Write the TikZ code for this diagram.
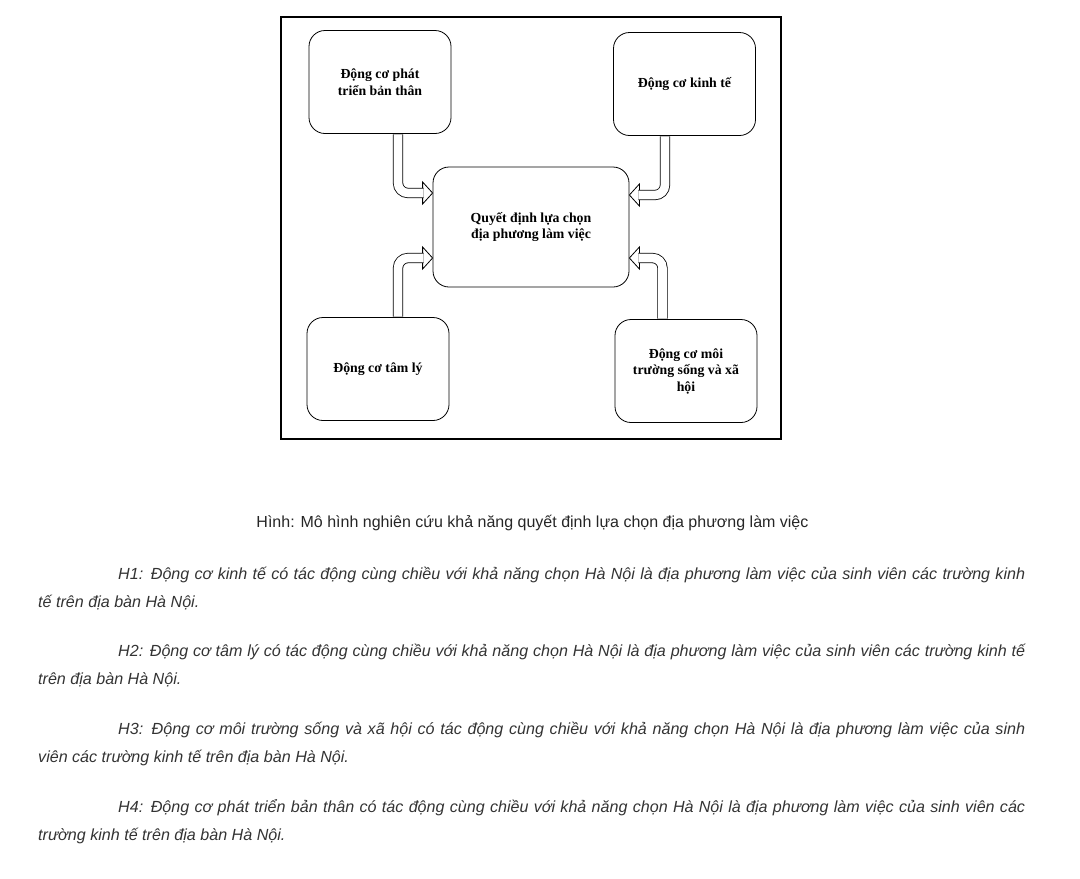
\documentclass[tikz,border=0pt]{standalone}
\usepackage{fontspec}
\setmainfont{Liberation Serif}
\newfontfamily\capfont{Liberation Sans}
\usetikzlibrary{positioning,calc}

\begin{document}
\begin{tikzpicture}
[
x=1pt, y=-1pt,
every node/.style={inner sep=0pt},
factor/.style={draw, rounded corners=16pt, line width=0.8pt, minimum width=142pt, minimum height=103pt, align=center, font=\bfseries\fontsize{13.8}{16.5}\selectfont},
shaft/.style={draw, double, double distance=8.6pt, line width=0.8pt, rounded corners=10pt, shorten <=0.5pt},
head/.style={draw, fill=white, line width=0.8pt},
hypo/.style={anchor=north west, text width=987pt, align=justify, text=black!80, font=\capfont\itshape\fontsize{16.1}{28}\selectfont}
]
\useasboundingbox (0,0) rectangle (1080,879);

% khung
\draw[line width=1.8pt] (281,17) rectangle (781,439);

% cac nhan to
\node[factor] (ptbt) at (380,82) {Động cơ phát\\triển bản thân};
\node[factor] (kt) at (684.5,84) {Động cơ kinh tế};
\node[factor, minimum width=196pt, minimum height=120pt] (qd) at (531,227) {Quyết định lựa chọn\\địa phương làm việc};
\node[factor] (tly) at (378,369) {Động cơ tâm lý};
\node[factor] (mt) at (686,371) {Động cơ môi\\trường sống và xã\\hội};

% mui ten
\coordinate (t1) at (qd.west |- 0,193);
\coordinate (t2) at (qd.east |- 0,195);
\coordinate (t3) at (qd.west |- 0,258);
\coordinate (t4) at (qd.east |- 0,258);

\draw[head] (t1) -- ++(-10,-11) -- ++(0,22) -- cycle;
\draw[shaft] (398,0 |- ptbt.south) |- ($(t1)+(-9,0)$);
\draw[head] (t2) -- ++(10,-11) -- ++(0,22) -- cycle;
\draw[shaft] (665,0 |- kt.south) |- ($(t2)+(9,0)$);
\draw[head] (t3) -- ++(-10,-11) -- ++(0,22) -- cycle;
\draw[shaft] (398,0 |- tly.north) |- ($(t3)+(-9,0)$);
\draw[head] (t4) -- ++(10,-11) -- ++(0,22) -- cycle;
\draw[shaft] (662.5,0 |- mt.north) |- ($(t4)+(9,0)$);

% chu thich
\node[font=\capfont\fontsize{16}{19}\selectfont, text=black!85] (cap) at (532.5,523) {Hình: Mô hình nghiên cứu khả năng quyết định lựa chọn địa phương làm việc};

% gia thuyet
\node[hypo] (h1) at (38,567) {\hspace*{80pt}H1: Động cơ kinh tế có tác động cùng chiều với khả năng chọn Hà Nội là địa phương làm việc của sinh viên các trường kinh\linebreak tế trên địa bàn Hà Nội.};
\node[hypo] (h2) at (38,644) {\hspace*{80pt}H2: Động cơ tâm lý có tác động cùng chiều với khả năng chọn Hà Nội là địa phương làm việc của sinh viên các trường kinh tế\linebreak trên địa bàn Hà Nội.};
\node[hypo] (h3) at (38,722) {\hspace*{80pt}H3: Động cơ môi trường sống và xã hội có tác động cùng chiều với khả năng chọn Hà Nội là địa phương làm việc của sinh\linebreak viên các trường kinh tế trên địa bàn Hà Nội.};
\node[hypo] (h4) at (38,799) {\hspace*{80pt}H4: Động cơ phát triển bản thân có tác động cùng chiều với khả năng chọn Hà Nội là địa phương làm việc của sinh viên các\linebreak trường kinh tế trên địa bàn Hà Nội.};
\end{tikzpicture}
\end{document}
